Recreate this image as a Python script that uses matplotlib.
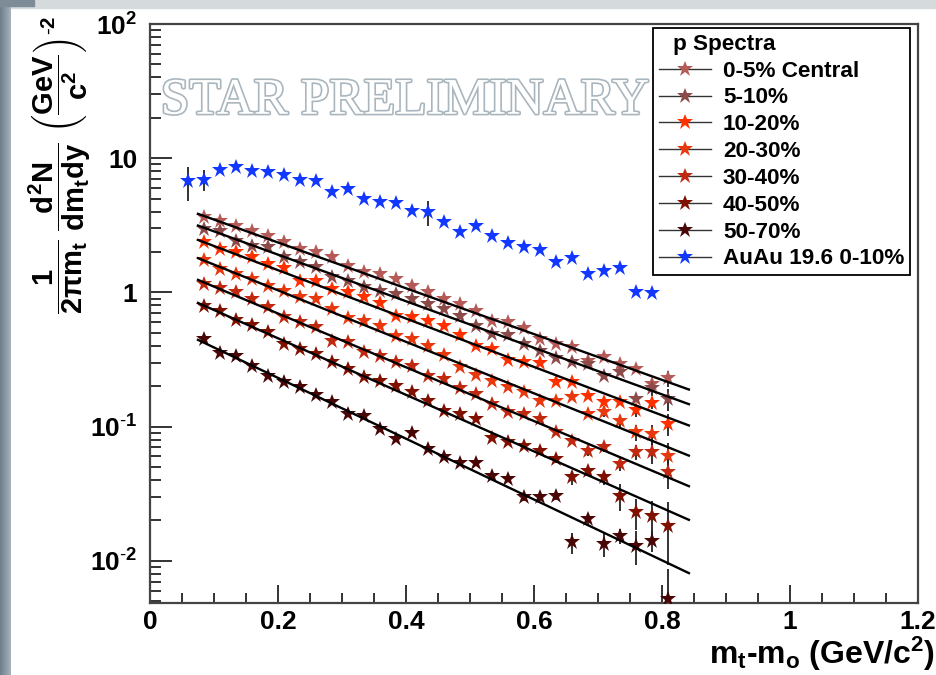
import numpy as np
import matplotlib
matplotlib.use('Agg')
import matplotlib.pyplot as plt
from matplotlib.lines import Line2D
import matplotlib.patheffects as pe
from matplotlib.ticker import LogLocator, MultipleLocator, FuncFormatter, NullFormatter
from matplotlib.patches import Rectangle

plt.rcParams['font.family'] = ['Liberation Sans', 'DejaVu Sans']
plt.rcParams['mathtext.fontset'] = 'custom'
plt.rcParams['mathtext.rm'] = 'Liberation Sans'
plt.rcParams['mathtext.bf'] = 'Liberation Sans:bold'
plt.rcParams['mathtext.it'] = 'Liberation Sans:italic'
plt.rcParams['mathtext.sf'] = 'Liberation Sans'

# ---------------- data ----------------
x_cent = [0.085, 0.11, 0.135, 0.16, 0.185, 0.21, 0.235, 0.26, 0.285, 0.31,
          0.335, 0.36, 0.385, 0.41, 0.435, 0.46, 0.485, 0.51, 0.535, 0.56,
          0.585, 0.61, 0.635, 0.66, 0.685, 0.71, 0.735, 0.76, 0.785, 0.81]

y_0_5 = [3.63, 3.43, 3.15, 2.89, 2.65, 2.37, 2.11, 1.99, 1.83, 1.56,
         1.43, 1.36, 1.25, 1.11, 1.00, 0.895, 0.820, 0.732, 0.617, 0.600,
         0.541, 0.45, 0.413, 0.390, 0.310, 0.329, 0.293, 0.269, 0.208, 0.229]
y_5_10 = [2.97, 2.89, 2.43, 2.23, 2.17, 1.83, 1.68, 1.54, 1.30, 1.22,
          1.09, 1.03, 0.975, 0.895, 0.82, 0.753, 0.671, 0.566, 0.491, 0.482,
          0.413, 0.369, 0.323, 0.302, 0.293, 0.240, 0.254, 0.161, 0.195, 0.161]
y_10_20 = [2.37, 2.11, 1.99, 1.83, 1.63, 1.51, 1.22, 1.22, 1.06, 1.00,
           0.92, 0.836, 0.665, 0.653, 0.617, 0.560, 0.482, 0.397, 0.380, 0.314,
           0.302, 0.299, 0.214, 0.214, 0.170, 0.152, 0.152, 0.132, 0.150, 0.105]
y_20_30 = [1.73, 1.50, 1.37, 1.26, 1.11, 1.03, 0.92, 0.895, 0.753, 0.642,
           0.617, 0.560, 0.477, 0.450, 0.401, 0.342, 0.277, 0.243, 0.220, 0.196,
           0.180, 0.156, 0.154, 0.166, 0.124, 0.128, 0.111, 0.0908, 0.0883, 0.0608]
y_30_40 = [1.157, 1.075, 1.00, 0.895, 0.776, 0.653, 0.600, 0.556, 0.437, 0.426,
           0.358, 0.338, 0.302, 0.285, 0.240, 0.227, 0.193, 0.175, 0.148, 0.128,
           0.124, 0.114, 0.0908, 0.0787, 0.0663, 0.0702, 0.0527, 0.0644, 0.0644, 0.0462]
y_40_50 = [0.798, 0.731, 0.626, 0.573, 0.505, 0.413, 0.379, 0.348, 0.302, 0.269,
           0.233, 0.220, 0.202, 0.180, 0.156, 0.131, 0.124, 0.114, 0.0819, 0.0764,
           0.0722, 0.0663, 0.0574, 0.0420, 0.0470, 0.0420, 0.0306, 0.0230, 0.0217, 0.0183]
y_50_70 = [0.450, 0.354, 0.338, 0.285, 0.240, 0.216, 0.197, 0.172, 0.152, 0.124,
           0.121, 0.0961, 0.081, 0.0897, 0.0683, 0.0591, 0.0537, 0.0537, 0.0432, 0.0407,
           0.0298, 0.0298, 0.0303, 0.0137, 0.0205, 0.0134, 0.0154, 0.0130, 0.0141, 0.0052]

e_0_5 = [0]*29 + [0.03]
e_5_10 = [0]*28 + [0.025, 0.03]
e_10_20 = [0]*27 + [0.015, 0.015, 0.02]
e_20_30 = [0]*25 + [0.010, 0.012, 0.012, 0.015, 0.015]
e_30_40 = [0]*24 + [0.006, 0.006, 0.006, 0.008, 0.012, 0.012]
e_40_50 = [0]*22 + [0.004, 0.005, 0.004, 0.005, 0.007, 0.006, 0.006, 0.009]
e_50_70 = [0]*20 + [0.002, 0.002, 0.002, 0.0025, 0.002, 0.0027, 0.002, 0.0037, 0.0025, 0.0035]

x_auau = [0.06, 0.085, 0.11, 0.135, 0.16, 0.185, 0.21, 0.235, 0.26, 0.285,
          0.31, 0.335, 0.36, 0.385, 0.41, 0.435, 0.46, 0.485, 0.51, 0.535,
          0.56, 0.585, 0.61, 0.635, 0.66, 0.685, 0.71, 0.735, 0.76, 0.785]
y_auau = [6.74, 6.92, 8.19, 8.57, 8.00, 7.94, 7.55, 6.92, 6.81, 5.59,
          5.91, 4.98, 4.75, 4.65, 4.07, 3.96, 3.34, 2.81, 3.11, 2.65,
          2.34, 2.17, 2.08, 1.68, 1.81, 1.36, 1.45, 1.51, 1.00, 0.99]
e_auau = [1.9, 1.2, 0, 0, 0, 0, 0, 0, 0, 0,
          0, 0, 0, 0, 0, 0.84, 0, 0, 0, 0,
          0, 0, 0, 0, 0, 0, 0, 0, 0, 0]

# fit lines: x range and end values
fit_x = [0.075, 0.842]
fit_0_5 = [3.85, 0.189]
fit_5_10 = [3.15, 0.147]
fit_10_20 = [2.46, 0.102]
fit_20_30 = [1.80, 0.0608]
fit_30_40 = [1.24, 0.036]
fit_40_50 = [0.835, 0.0202]
fit_50_70 = [0.443, 0.0081]

labels = ['0-5% Central', '5-10%', '10-20%', '20-30%', '30-40%', '40-50%', '50-70%']
colors = ['#b65a58', '#8c4a48', '#ff3000', '#e8380e', '#c02810', '#801000', '#4a0505']
series = [y_0_5, y_5_10, y_10_20, y_20_30, y_30_40, y_40_50, y_50_70]
errors = [e_0_5, e_5_10, e_10_20, e_20_30, e_30_40, e_40_50, e_50_70]
fits = [fit_0_5, fit_5_10, fit_10_20, fit_20_30, fit_30_40, fit_40_50, fit_50_70]
auau_label = 'AuAu 19.6 0-10%'
auau_color = '#1238ff'

# ---------------- figure ----------------
W, H = 937, 675
fig = plt.figure(figsize=(W/100, H/100), dpi=100)
fig.patch.set_facecolor('white')

# slide background strips
bg = fig.add_axes([0, 0, 11/W, 1], zorder=-10)
grad = np.linspace(0, 1, 64).reshape(1, -1)
bg.imshow(grad, aspect='auto', cmap=matplotlib.colors.LinearSegmentedColormap.from_list(
    'g', ['#6c7e8c', '#a7b3bb']), extent=[0, 1, 0, 1])
bg.axis('off')
fig.patches.append(Rectangle((11/W, 1-8/H), 1, 8/H, transform=fig.transFigure,
                             color='#d5dadd', zorder=-9))
fig.patches.append(Rectangle((0, 1-6/H), 34/W, 6/H, transform=fig.transFigure,
                             color='#7d8c96', zorder=-8))

ax = fig.add_axes([150/W, 72/H, 768/W, 579/H])
ax.set_xlim(0, 1.2)
ax.set_yscale('log')
ax.set_ylim(0.00485, 100)

ms = 12
for y, e, c, lab in zip(series, errors, colors, labels):
    ax.errorbar(x_cent, y, yerr=e, fmt='none', ecolor='#222222', elinewidth=1.3,
                capsize=0, zorder=2)
    ax.plot(x_cent, y, linestyle='none', marker='*', markersize=ms, color=c,
            markeredgewidth=0, zorder=3)
for f in fits:
    ax.plot(fit_x, f, color='black', lw=1.7, zorder=4)

ax.errorbar(x_auau, y_auau, yerr=e_auau, fmt='none', ecolor='#222222', elinewidth=1.3,
            capsize=0, zorder=2)
ax.plot(x_auau, y_auau, linestyle='none', marker='*', markersize=ms, color=auau_color,
        markeredgewidth=0, zorder=3)

# ticks
ax.xaxis.set_major_locator(MultipleLocator(0.2))
ax.xaxis.set_minor_locator(MultipleLocator(0.05))
ax.yaxis.set_major_locator(LogLocator(base=10, numticks=10))
ax.yaxis.set_minor_locator(LogLocator(base=10, subs=np.arange(2, 10), numticks=20))
ax.yaxis.set_minor_formatter(NullFormatter())

ylab = {100: r'$\mathbf{10^{2}}$', 10: '10', 1: '1', 0.1: r'$\mathbf{10^{\text{-}1}}$',
        0.01: r'$\mathbf{10^{\text{-}2}}$'}


def yfmt(v, pos):
    for k, s in ylab.items():
        if abs(v - k) / k < 1e-6:
            return s
    return ''


def xfmt(v, pos):
    if abs(v) < 1e-9:
        return '0'
    if abs(v - round(v)) < 1e-9:
        return '%d' % round(v)
    return '%.1f' % v


ax.yaxis.set_major_formatter(FuncFormatter(yfmt))
ax.xaxis.set_major_formatter(FuncFormatter(xfmt))
ax.tick_params(axis='both', which='both', direction='in', top=False, right=False,
               colors='#333333', labelcolor='black', width=1.4)
ax.tick_params(axis='y', which='major', length=16, labelsize=19, pad=9)
ax.tick_params(axis='y', which='minor', length=8)
ax.tick_params(axis='x', which='major', length=13, labelsize=19, pad=5)
ax.tick_params(axis='x', which='minor', length=7)
for t in ax.get_xticklabels() + ax.get_yticklabels():
    t.set_fontweight('bold')
for sp in ax.spines.values():
    sp.set_color('#444444')
    sp.set_linewidth(1.6)

# axis titles
fig.text(935/W, 1-664/H, r'$\mathbf{m_{t}}$-$\mathbf{m_{o}}$ (GeV/c$\mathbf{^{2}}$)',
         ha='right', va='baseline', fontsize=23, fontweight='bold')
fig.text(60/W, 1-16/H,
         r'$\dfrac{\mathbf{1}}{\mathbf{2\pi m_{t}}}\ \dfrac{\mathbf{d^{2}N}}{\mathbf{dm_{t}dy}}\ '
         r'\left(\dfrac{\mathbf{GeV}}{\mathbf{c^{2}}}\right)^{\mathbf{\text{-}2}}$',
         rotation=90, ha='center', va='top', fontsize=21)

# watermark
ax.text(0.014, 0.845, 'STAR PRELIMINARY', transform=ax.transAxes, fontsize=37,
        family='Liberation Serif', color='white', ha='left', va='baseline', zorder=1,
        path_effects=[pe.withStroke(linewidth=2.4, foreground='#aab6be')])

# legend
handles = [Line2D([], [], color='#333333', lw=1, marker='*', markersize=ms,
                  markerfacecolor=c, markeredgewidth=0) for c in colors]
handles.append(Line2D([], [], color='#333333', lw=1, marker='*', markersize=ms,
                      markerfacecolor=auau_color, markeredgewidth=0))
leg = ax.legend(handles, labels + [auau_label], title='p Spectra', loc='upper right',
                bbox_to_anchor=(0.9896, 0.993), fontsize=16.2, title_fontsize=16.2,
                frameon=True, fancybox=False, framealpha=1, edgecolor='black',
                handlelength=2.3, handletextpad=0.55, labelspacing=0.26,
                borderpad=0.25, borderaxespad=0.0, alignment='left')
leg.get_frame().set_linewidth(1.3)
leg.get_title().set_fontweight('bold')
leg.get_title().set_position((14, 0))
for t in leg.get_texts():
    t.set_fontweight('bold')
leg.set_zorder(10)

fig.savefig('out.png', dpi=100)
